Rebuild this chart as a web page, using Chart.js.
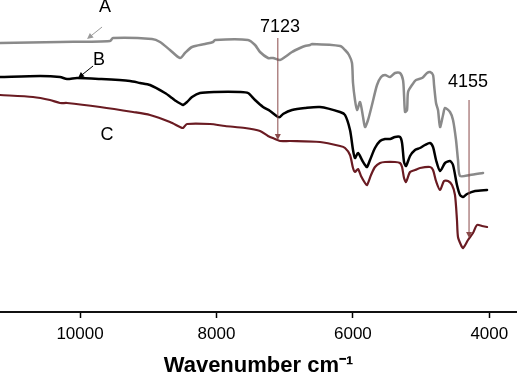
<!DOCTYPE html>
<html>
<head>
<meta charset="utf-8">
<script src="https://cdn.jsdelivr.net/npm/chart.js@4.4.1/dist/chart.umd.min.js"></script>
<style>
  html, body { margin: 0; padding: 0; background: #fff; }
  #wrap { width: 517px; height: 375px; position: relative; }
</style>
</head>
<body>
<div id="wrap"><canvas id="c" width="517" height="375"></canvas></div>
<script>
// ---- Data (wavenumber cm-1, relative transmittance a.u.) ----
const seriesNames = ['A', 'B', 'C'];

const wnA = [11173,10293,9560,9516,8945,8827,8681,8534,8461,8358,8168,8050,8021,7537,7434,7361,7244,7171,7068,6995,6892,6775,6702,6628,6599,6188,6115,6057,6013,5998,5969,5939,5895,5851,5822,5778,5720,5646,5587,5529,5455,5382,5309,5265,5250,5235,5206,5191,5133,5074,4986,4913,4869,4825,4810,4781,4752,4722,4678,4649,4576,4532,4488,4459,4429,4283,4092];
const tA  = [269,270,271,274,273,270,262,254,259,265,268,270,272,272,267,260,254,254,252,255,260,264,266,267,268,266,262,257,249,229,212,202,210,195,185,192,207,227,235,237,235,239,239,232,217,200,202,220,227,232,234,239,240,237,227,209,202,185,197,204,200,192,172,152,136,137,139];

const wnB = [11173,10586,10293,10191,10044,9707,9267,9120,8974,8754,8651,8593,8519,8490,8431,8358,8241,8021,7654,7537,7434,7317,7214,7097,7068,7024,6892,6702,6482,6188,6115,6042,5998,5969,5925,5866,5822,5793,5749,5676,5602,5529,5455,5382,5309,5279,5250,5221,5162,5089,5016,4943,4869,4825,4781,4722,4649,4576,4532,4474,4429,4385,4327,4209,4033];
const tB  = [235,236,235,233,234,233,231,229,227,219,214,211,208,207,210,215,219,220,220,219,212,205,201,195,195,198,202,204,205,200,197,182,162,154,159,152,147,145,152,164,171,173,173,175,175,169,150,146,156,162,164,167,169,165,152,141,149,151,147,127,117,115,118,121,122];

const wnC = [11173,10689,10440,10293,10191,9707,9223,8974,8681,8534,8490,8431,8094,7874,7581,7361,7244,7141,7068,6921,6482,6188,6115,6042,5998,5969,5925,5881,5822,5793,5734,5676,5602,5529,5382,5309,5279,5250,5221,5162,5089,5016,4869,4825,4781,4722,4664,4605,4547,4503,4474,4459,4415,4385,4312,4239,4180,4107,4033];
const tC  = [217,215,212,209,209,205,200,197,190,185,184,188,188,186,184,181,176,173,171,171,170,166,164,157,144,140,143,136,129,127,137,145,149,150,150,149,145,134,130,140,142,144,145,142,131,122,131,131,127,117,92,75,67,64,72,79,87,86,85];

const xTicks = [10000, 8000, 6000, 4000];
const xTitle = 'Wavenumber cm\u207B\u00B9';

// annotation texts and anchors (data units)
const noteText = ['A', 'B', 'C', '7123', '4155'];
const noteX    = [9634, 9722, 9604, 7068, 4312];
const noteY    = [305, 252, 177, 285, 229.5];

// arrows: start and end points (data units)
const arrowX0 = [9677, 9809, 7100, 4297];
const arrowY0 = [285, 246, 274, 212];
const arrowX1 = [9897, 10029, 7100, 4297];
const arrowY1 = [273, 234, 172, 74];

const FONT = "'Liberation Sans', Arial, Helvetica, sans-serif";
const lineColors = ['#8a8a8a', '#000000', '#6a1b22'];
const arrowColors = ['#9a9a9a', '#000000', '#8a4a4a', '#8a4a4a'];

function pts(xs, ys) { return xs.map((v, i) => ({ x: v, y: ys[i] })); }

const annotPlugin = {
  id: 'annot',
  afterDatasetsDraw(chart) {
    const ctx = chart.ctx, xs = chart.scales.x, ys = chart.scales.y;
    ctx.save();
    for (let i = 0; i < arrowX0.length; i++) {
      const x0 = xs.getPixelForValue(arrowX0[i]), y0 = ys.getPixelForValue(arrowY0[i]);
      const x1 = xs.getPixelForValue(arrowX1[i]), y1 = ys.getPixelForValue(arrowY1[i]);
      const ang = Math.atan2(y1 - y0, x1 - x0);
      const L = 6, W = 3;
      ctx.strokeStyle = arrowColors[i];
      ctx.fillStyle = arrowColors[i];
      ctx.lineWidth = 1;
      ctx.beginPath();
      ctx.moveTo(x0, y0);
      ctx.lineTo(x1 - Math.cos(ang) * L * 0.6, y1 - Math.sin(ang) * L * 0.6);
      ctx.stroke();
      ctx.beginPath();
      ctx.moveTo(x1, y1);
      ctx.lineTo(x1 - Math.cos(ang) * L - Math.sin(ang) * W, y1 - Math.sin(ang) * L + Math.cos(ang) * W);
      ctx.lineTo(x1 - Math.cos(ang) * L + Math.sin(ang) * W, y1 - Math.sin(ang) * L - Math.cos(ang) * W);
      ctx.closePath();
      ctx.fill();
    }
    ctx.fillStyle = '#000';
    ctx.font = '18px ' + FONT;
    ctx.textAlign = 'center';
    ctx.textBaseline = 'middle';
    for (let i = 0; i < noteText.length; i++) {
      ctx.fillText(noteText[i], xs.getPixelForValue(noteX[i]), ys.getPixelForValue(noteY[i]));
    }
    ctx.restore();
  }
};

new Chart(document.getElementById('c'), {
  type: 'line',
  data: {
    datasets: [
      { label: seriesNames[0], data: pts(wnA, tA), borderColor: lineColors[0], borderWidth: 2.5 },
      { label: seriesNames[1], data: pts(wnB, tB), borderColor: lineColors[1], borderWidth: 2.5 },
      { label: seriesNames[2], data: pts(wnC, tC), borderColor: lineColors[2], borderWidth: 2.2 }
    ]
  },
  options: {
    responsive: false,
    animation: false,
    events: [],
    layout: { padding: 0 },
    elements: { point: { radius: 0 }, line: { tension: 0.25, fill: false, borderJoinStyle: 'round', borderCapStyle: 'round' } },
    plugins: { legend: { display: false }, tooltip: { enabled: false }, title: { display: false } },
    scales: {
      x: {
        type: 'linear',
        reverse: true,
        min: 3594,
        max: 11173,
        afterBuildTicks: s => { s.ticks = xTicks.map(v => ({ value: v })); },
        afterFit: s => { s.height = 63; },
        grid: { display: true, drawOnChartArea: false, drawTicks: true, tickLength: 6, color: '#000', tickWidth: 1.5 },
        border: { display: true, color: '#111', width: 2 },
        ticks: { font: { family: FONT, size: 17 }, color: '#000', padding: 6, maxRotation: 0, autoSkip: false, callback: v => String(v) },
        title: { display: true, text: xTitle, color: '#000', font: { family: FONT, size: 22, weight: 'bold' }, padding: { top: 0, bottom: -4 } }
      },
      y: { display: false, min: 0, max: 312 }
    }
  },
  plugins: [annotPlugin]
});
</script>
</body>
</html>
